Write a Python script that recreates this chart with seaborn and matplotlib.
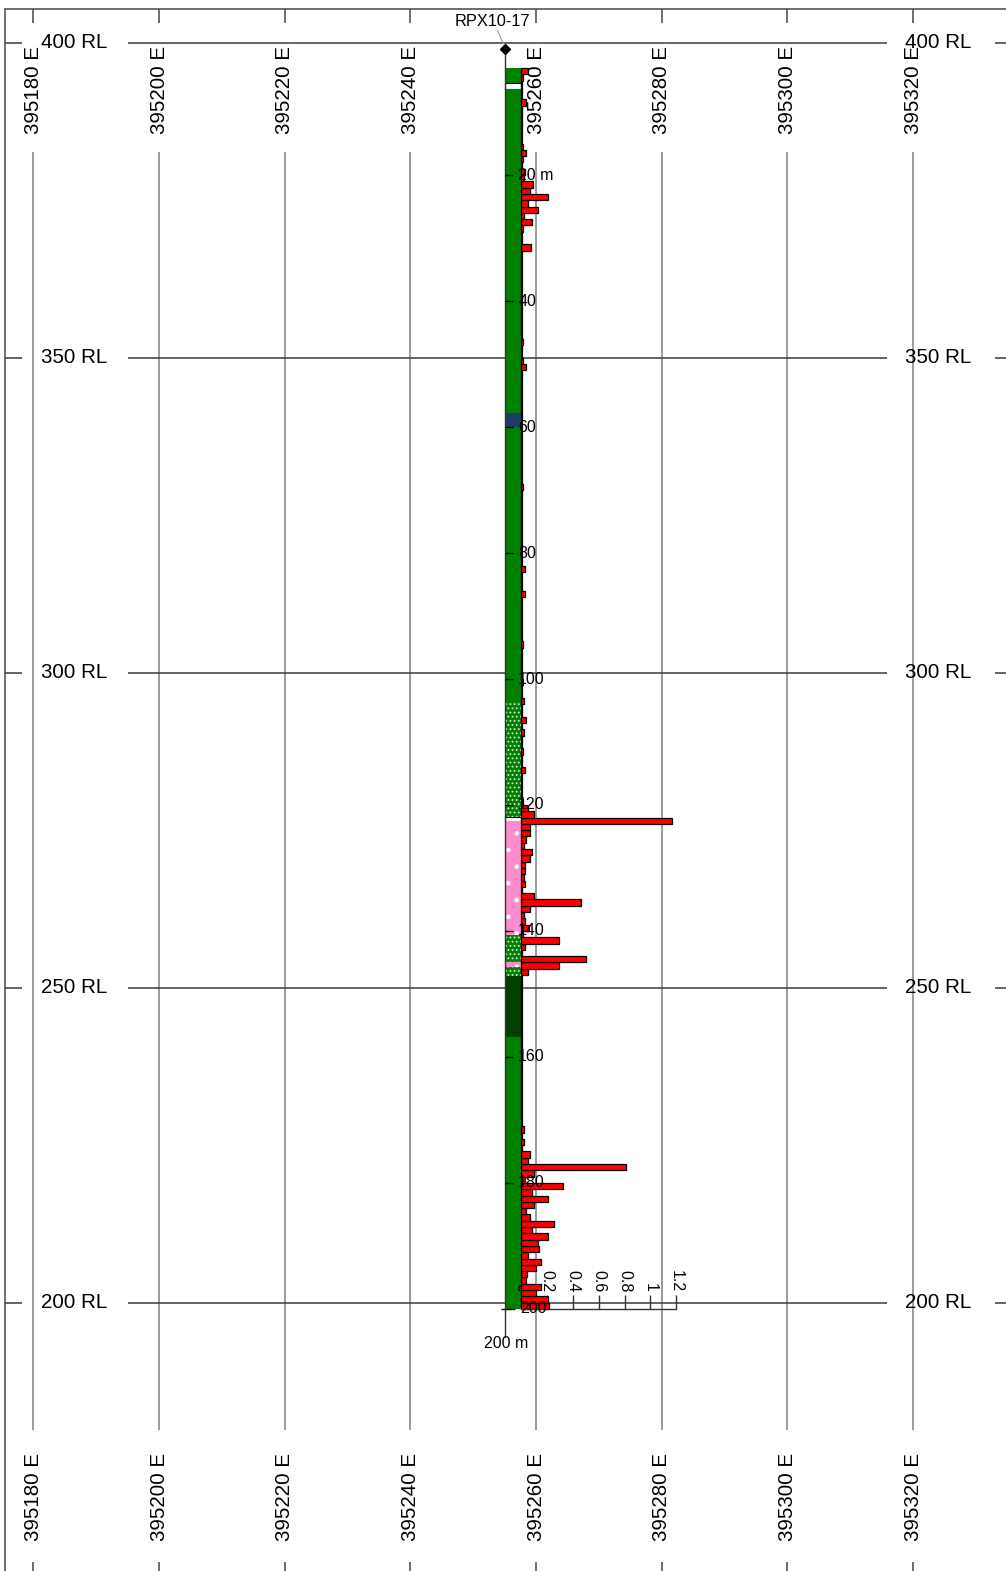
import matplotlib
matplotlib.use("Agg")
import matplotlib.pyplot as plt
import pandas as pd
import seaborn as sns
from matplotlib.patches import Rectangle

# ---- section grid -------------------------------------------------------
eastings = [395180, 395200, 395220, 395240, 395260, 395280, 395300, 395320]
rl_levels = [400, 350, 300, 250, 200]

# ---- drill hole ---------------------------------------------------------
hole_id = "RPX10-17"
collar_e = 395255.0
collar_rl = 399.0
hole_length = 200.0
depth_marks = [20, 40, 60, 80, 100, 120, 140, 160, 180]

# lithology log, downhole metres
litho_from = [3.0, 5.4, 6.4, 57.8, 60.0, 103.8, 121.9, 122.5, 140.6, 144.9, 145.7, 147.1, 156.8]
litho_to = [5.4, 6.4, 57.8, 60.0, 103.8, 121.9, 122.5, 140.6, 144.9, 145.7, 147.1, 156.8, 200.0]
litho_code = ["GRN", "VOID", "GRN", "DBL", "GRN", "GRNP", "VOID", "PNK",
              "GRNP", "PNK", "GRNP", "DGR", "GRN"]

# assays, 1 m intervals starting at 3 m
assay_from = list(range(3, 200))
assay_value = [
    0.05, 0.015, 0.005, 0.005, 0.005, 0.04, 0.005, 0.005, 0.005, 0.005,      # 3-12
    0.005, 0.005, 0.01, 0.04, 0.01, 0.005, 0.03, 0.02, 0.09, 0.07,           # 13-22
    0.21, 0.055, 0.13, 0.02, 0.085, 0.015, 0.005, 0.005, 0.075, 0.005,       # 23-32
    0.005, 0.004, 0.005, 0.003, 0.005, 0.004, 0.005, 0.005, 0.004, 0.005,    # 33-42
    0.005, 0.004, 0.005, 0.01, 0.004, 0.005, 0.01, 0.035, 0.005, 0.004,      # 43-52
    0.004, 0.005, 0.003, 0.005, 0.004, 0.005, 0.003, 0.004, 0.005, 0.004,    # 53-62
    0.005, 0.004, 0.005, 0.005, 0.004, 0.006, 0.01, 0.005, 0.004, 0.005,     # 63-72
    0.004, 0.005, 0.005, 0.004, 0.005, 0.006, 0.005, 0.004, 0.005, 0.025,    # 73-82
    0.005, 0.004, 0.006, 0.025, 0.005, 0.004, 0.005, 0.005, 0.004, 0.005,    # 83-92
    0.005, 0.01, 0.005, 0.004, 0.005, 0.006, 0.005, 0.012, 0.005, 0.004,     # 93-102
    0.02, 0.005, 0.006, 0.035, 0.005, 0.02, 0.005, 0.006, 0.015, 0.005,      # 103-112
    0.005, 0.03, 0.005, 0.006, 0.005, 0.006, 0.01, 0.055, 0.095, 1.17,       # 113-122
    0.07, 0.065, 0.04, 0.02, 0.08, 0.065, 0.025, 0.03, 0.02, 0.025,          # 123-132
    0.005, 0.10, 0.46, 0.065, 0.02, 0.03, 0.06, 0.01, 0.29, 0.025,           # 133-142
    0.005, 0.50, 0.29, 0.05, 0.006, 0.005, 0.004, 0.005, 0.004, 0.005,       # 143-152
    0.004, 0.005, 0.004, 0.005, 0.005, 0.004, 0.005, 0.004, 0.005, 0.004,    # 153-162
    0.005, 0.004, 0.005, 0.006, 0.005, 0.004, 0.006, 0.005, 0.02, 0.006,     # 163-172
    0.02, 0.005, 0.07, 0.055, 0.81, 0.095, 0.03, 0.325, 0.08, 0.21,          # 173-182
    0.10, 0.04, 0.065, 0.25, 0.08, 0.21, 0.13, 0.135, 0.055, 0.15,           # 183-192
    0.11, 0.045, 0.04, 0.15, 0.11, 0.21, 0.215,                              # 193-199
]
scale_ticks = [0, 0.2, 0.4, 0.6, 0.8, 1.0, 1.2]
scale_labels = ["0", "0.2", "0.4", "0.6", "0.8", "1", "1.2"]

# ---- styling ------------------------------------------------------------
litho_style = {
    "GRN": dict(facecolor="#008000"),
    "GRNP": dict(facecolor="#008000", hatch="....", edgecolor="#cfeacf"),
    "DGR": dict(facecolor="#004000"),
    "DBL": dict(facecolor="#1e3d66"),
    "PNK": dict(facecolor="#ff8ccc", hatch=".", edgecolor="white"),
    "VOID": dict(facecolor="white", edgecolor="black"),
}

sns.set_theme(style="white")
plt.rcParams["font.family"] = ["Liberation Sans", "DejaVu Sans"]
plt.rcParams["hatch.linewidth"] = 0.8

W, H = 1006, 1571
fig = plt.figure(figsize=(W / 100, H / 100), dpi=100)
ax = fig.add_axes([0, 0, 1, 1])
x_lo, x_hi = 395174.70, 395334.77
y_lo, y_hi = 157.41, 406.78
ax.set_xlim(x_lo, x_hi)
ax.set_ylim(y_lo, y_hi)
ax.set_axis_off()


def fy(px):
    """figure-fraction height measured from the top edge"""
    return 1 - px / H


def fx(px):
    return px / W


line_v = "#8a8a8a"
line_h = "#3a3a3a"
frame = "#555555"
xt = ax.get_xaxis_transform()
yt = ax.get_yaxis_transform()

# outer frame
ax.plot([fx(5), 1], [fy(9), fy(9)], transform=ax.transAxes, color=frame, lw=1.2)
ax.plot([fx(5), fx(5)], [fy(9), 0], transform=ax.transAxes, color=frame, lw=1.2)

# easting lines, ticks and labels
ax.vlines(eastings, fy(1430), fy(152), transform=xt, color=line_v, lw=1.2)
ax.vlines(eastings, fy(23), fy(9), transform=xt, color=frame, lw=1.2)
ax.vlines(eastings, 0, fy(1562), transform=xt, color=frame, lw=1.2)
for e in eastings:
    for ypx in (89.5, 1497):
        ax.text(e, fy(ypx), f"{e} E", transform=xt, rotation=90,
                ha="center", va="center", fontsize=14.8, color="black")

# RL lines and labels
for (a, b) in [(5, 22), (128, 887), (995, W)]:
    ax.hlines(rl_levels, fx(a), fx(b), transform=yt, color=line_h, lw=1.1)
for rl in rl_levels:
    ax.text(fx(41), rl, f"{rl} RL", transform=yt, ha="left", va="center",
            fontsize=14.8, color="black")
    ax.text(fx(905), rl, f"{rl} RL", transform=yt, ha="left", va="center",
            fontsize=14.8, color="black")

# lithology column
col_w = 2.6
for f, t, c in zip(litho_from, litho_to, litho_code):
    st = dict(litho_style[c])
    lw = 0.8 if c == "VOID" else 0
    ax.add_patch(Rectangle((collar_e, collar_rl - t), col_w, t - f,
                           linewidth=lw, zorder=3, **st))

# hole trace, collar and downhole ticks
end_rl = collar_rl - hole_length
ax.plot([collar_e, collar_e], [collar_rl, end_rl - 4.4], color="#333333", lw=1.0, zorder=4)
ax.plot(collar_e, collar_rl, marker="D", ms=5, color="black", zorder=5)
ax.hlines([collar_rl - d for d in depth_marks], collar_e, collar_e + 1.3,
          color="black", lw=1.0, zorder=5)
ax.hlines([end_rl], collar_e - 0.6, collar_e + 1.6, color="black", lw=1.0, zorder=5)
ax.plot([collar_e - 1.15, collar_e - 0.2], [collar_rl + 2.9, collar_rl + 0.8],
        color="#999999", lw=0.8)
ax.text(collar_e - 2.0, collar_rl + 4.3, hole_id, ha="center", va="center",
        fontsize=11.8, color="black")

# assay histogram on a twin x-axis sharing RL
hist0 = collar_e + 2.65
unit_m = 20.53
ax_h = ax.twiny()
ax_h.set_xlim((x_lo - hist0) / unit_m, (x_hi - hist0) / unit_m)
assays = pd.DataFrame({
    "rl": [collar_rl - f - 0.5 for f in assay_from],
    "value": assay_value,
})
sns.barplot(data=assays, x="value", y="rl", orient="y", native_scale=True,
            width=1.0, color="#ff0000", saturation=1, edgecolor="black",
            linewidth=0.9, errorbar=None, ax=ax_h)
ax_h.set_xlim((x_lo - hist0) / unit_m, (x_hi - hist0) / unit_m)
ax.set_ylim(y_lo, y_hi)
ax_h.set_xlabel("")
ax_h.set_ylabel("")
ax_h.grid(False)
ax_h.patch.set_visible(False)
ax_h.yaxis.set_visible(False)
for s in ("left", "right", "bottom"):
    ax_h.spines[s].set_visible(False)
ax_h.spines["top"].set_position(("data", end_rl))
ax_h.spines["top"].set_bounds(0, 1.2)
ax_h.spines["top"].set_color("#333333")
ax_h.spines["top"].set_linewidth(1.0)
ax_h.xaxis.set_ticks_position("top")
ax_h.set_xticks(scale_ticks, scale_labels)
ax_h.tick_params(axis="x", which="both", top=True, bottom=False, labeltop=True,
                 labelbottom=False, direction="out", length=10, width=1.0,
                 color="#333333", labelsize=11.5, labelrotation=270, pad=2,
                 labelcolor="black")

# depth labels over the bars
for i, d in enumerate(depth_marks):
    lab = f"{d} m" if i == 0 else f"{d}"
    ax_h.text(hist0 - 0.5, collar_rl - d, lab, transform=ax.transData,
              ha="left", va="center", fontsize=11.5, color="black", zorder=10)
ax_h.text(hist0 - 0.2, end_rl, f"{int(hole_length)}", transform=ax.transData,
          ha="left", va="center", fontsize=11.5, color="black", zorder=10)
ax_h.text(collar_e + 0.2, end_rl - 5.5, f"{int(hole_length)} m", transform=ax.transData,
          ha="center", va="center", fontsize=11.5, color="black", zorder=10)

fig.savefig("out.png", dpi=100)
